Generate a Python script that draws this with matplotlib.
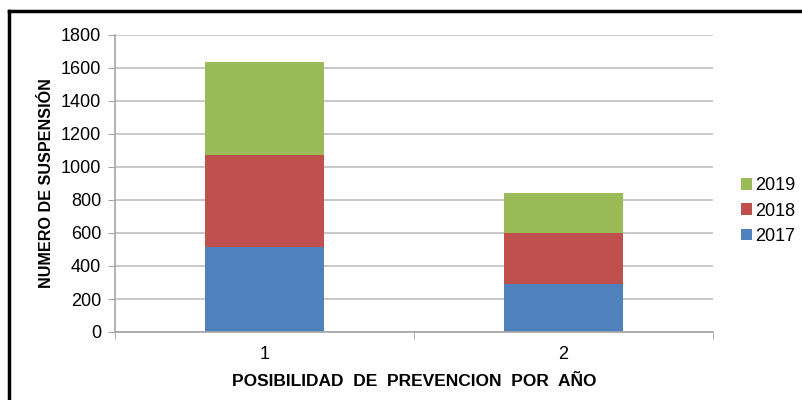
import matplotlib.pyplot as plt
import numpy as np
from matplotlib.lines import Line2D

categorias = ["1", "2"]
anios = ["2017", "2018", "2019"]
v2017 = [517, 291]
v2018 = [556, 311]
v2019 = [563, 238]
colores = ["#4f81bd", "#c0504d", "#9bbb59"]

plt.rcParams['font.family'] = ['Liberation Sans', 'DejaVu Sans']

fig = plt.figure(figsize=(8.02, 4.0), dpi=100)
ax = fig.add_axes([115/802, 1 - 332/400, 598/802, 297/400])

x = np.arange(len(categorias))
base = np.zeros(len(categorias))
for vals, nombre, c in zip([v2017, v2018, v2019], anios, colores):
    ax.bar(x, vals, width=0.4, bottom=base, color=c, label=nombre, zorder=2)
    base = base + np.array(vals)

ax.set_xlim(-0.5, 1.5)
ax.set_ylim(0, 1800)
ax.set_yticks(range(0, 1801, 200))
ax.set_xticks(x)
ax.set_xticklabels(categorias)
ax.set_xticks([-0.5, 0.5, 1.5], minor=True)
ax.yaxis.grid(True, color="#bfbfbf", linewidth=1.2, zorder=0)
ax.set_axisbelow(True)

for s in ["top", "right"]:
    ax.spines[s].set_visible(False)
for s in ["left", "bottom"]:
    ax.spines[s].set_color("#a6a6a6")
    ax.spines[s].set_linewidth(1.2)

ax.tick_params(axis="y", length=5, color="#a6a6a6", labelsize=13, pad=5)
ax.tick_params(axis="x", which="major", length=0, labelsize=13, pad=10)
ax.tick_params(axis="x", which="minor", length=5, color="#a6a6a6")

ax.set_ylabel("NUMERO DE SUSPENSIÓN", fontsize=11.6, fontweight="bold", labelpad=5)
ax.set_xlabel("POSIBILIDAD  DE  PREVENCION  POR  AÑO", fontsize=12.5, fontweight="bold", labelpad=8)

h, l = ax.get_legend_handles_labels()
fig.legend(h[::-1], l[::-1], loc="center left", bbox_to_anchor=(741/802, 1 - 211/400),
           frameon=False, fontsize=13, handlelength=0.6, handleheight=0.6,
           handletextpad=0.2, labelspacing=0.45, borderaxespad=0,
           borderpad=0, handler_map=None)

# marco exterior
fig.add_artist(Line2D([8.5/802, 8.5/802], [0, 1 - 11/400], color="black", linewidth=2.5))
fig.add_artist(Line2D([8.5/802, 1], [1 - 11/400, 1 - 11/400], color="black", linewidth=2.5))

fig.savefig("out.png", dpi=100)
